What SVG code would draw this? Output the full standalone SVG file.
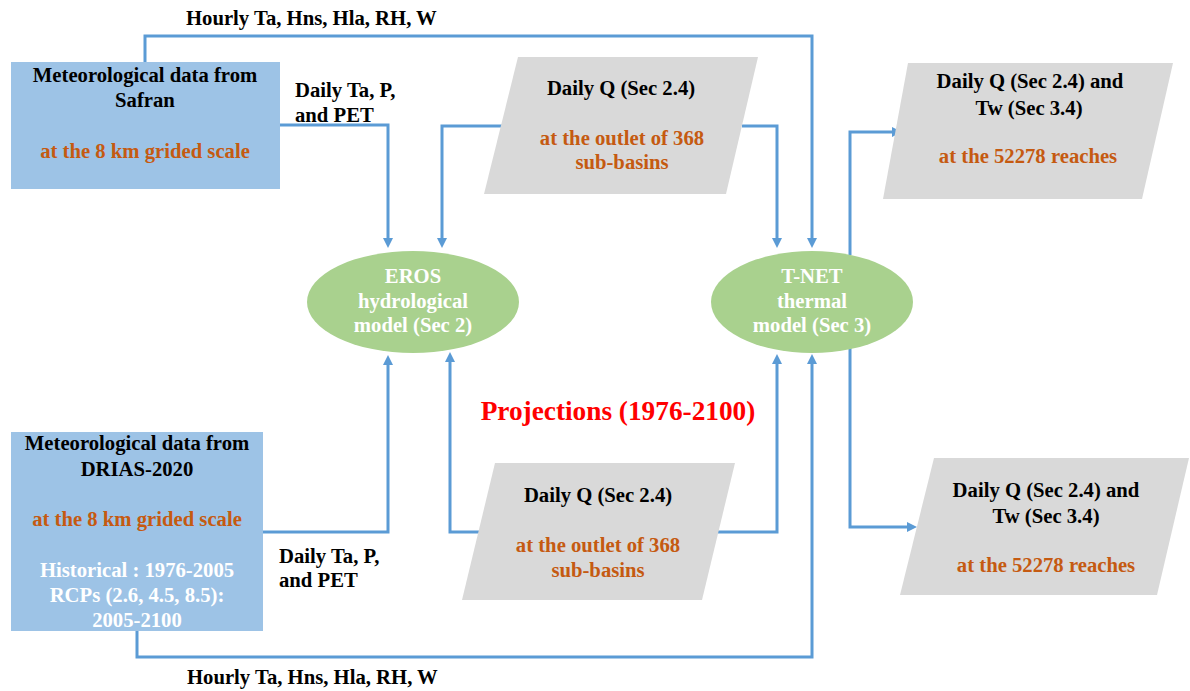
<svg xmlns="http://www.w3.org/2000/svg" width="1190" height="691" viewBox="0 0 1190 691">
<defs>
<marker id="ah" markerUnits="userSpaceOnUse" markerWidth="10" markerHeight="10" viewBox="0 0 10 10" refX="0" refY="5" orient="auto">
<path d="M0,0 L10,5 L0,10 z" fill="#5B9BD5"/>
</marker>
<style>
text{font-family:"Liberation Serif","Times New Roman",serif;font-weight:bold;font-size:20.7px;}
.c{text-anchor:middle;}
.k{fill:#000;}
.o{fill:#C55A11;}
.w{fill:#FFFFFF;}
.box{fill:#9DC3E6;}
.par{fill:#D9D9D9;}
.ell{fill:#A9D18E;}
.ln{fill:none;stroke:#5B9BD5;stroke-width:3;marker-end:url(#ah);}
</style>
</defs>
<rect width="1190" height="691" fill="#FFFFFF"/>

<g id="connectors">
<path class="ln" d="M145,62 V36 H812 V238"/>
<path class="ln" d="M280,125 H388 V238"/>
<path class="ln" d="M503,126 H442 V238"/>
<path class="ln" d="M742,126 H777 V238"/>
<path class="ln" d="M850,255 V132 H892"/>
<path class="ln" d="M263,532 H388 V365"/>
<path class="ln" d="M480,532 H450 V362"/>
<path class="ln" d="M718,532 H777 V364"/>
<path class="ln" d="M137,631 V657 H812 V364"/>
<path class="ln" d="M850,348 V527 H907"/>
</g>

<g id="safran">
<rect class="box" x="11" y="62" width="269" height="127"/>
<text class="c k" x="145" y="82">Meteorological data from</text>
<text class="c k" x="145" y="107">Safran</text>
<text class="c o" x="145" y="158">at the 8 km grided scale</text>
</g>

<g id="drias">
<rect class="box" x="11" y="432" width="252" height="199"/>
<text class="c k" x="137" y="450">Meteorological data from</text>
<text class="c k" x="137" y="476">DRIAS-2020</text>
<text class="c o" x="137" y="526">at the 8 km grided scale</text>
<text class="c w" x="137" y="577">Historical : 1976-2005</text>
<text class="c w" x="137" y="602">RCPs (2.6, 4.5, 8.5):</text>
<text class="c w" x="137" y="627">2005-2100</text>
</g>

<g id="q-top">
<polygon class="par" points="518,57 758,57 726,194 484,194"/>
<text class="c k" x="621" y="95">Daily Q (Sec 2.4)</text>
<text class="c o" x="622" y="145">at the outlet of 368</text>
<text class="c o" x="622" y="169">sub-basins</text>
</g>

<g id="q-bottom">
<polygon class="par" points="495,463 735,463 702,600 462,600"/>
<text class="c k" x="598" y="502">Daily Q (Sec 2.4)</text>
<text class="c o" x="598" y="552">at the outlet of 368</text>
<text class="c o" x="598" y="577">sub-basins</text>
</g>

<g id="out-top">
<polygon class="par" points="908,63 1173,63 1142,199 883,199"/>
<text class="c k" x="1030" y="88">Daily Q (Sec 2.4) and</text>
<text class="c k" x="1029" y="115">Tw  (Sec 3.4)</text>
<text class="c o" x="1028" y="163">at the 52278 reaches</text>
</g>

<g id="out-bottom">
<polygon class="par" points="934,458 1189,458 1157,595 900,595"/>
<text class="c k" x="1046" y="497">Daily Q (Sec 2.4) and</text>
<text class="c k" x="1046" y="523">Tw (Sec 3.4)</text>
<text class="c o" x="1046" y="572">at the 52278 reaches</text>
</g>

<g id="eros">
<ellipse class="ell" cx="413" cy="302" rx="106" ry="51"/>
<text class="c w" x="413" y="283">EROS</text>
<text class="c w" x="413" y="308">hydrological</text>
<text class="c w" x="413" y="332">model (Sec 2)</text>
</g>

<g id="tnet">
<ellipse class="ell" cx="812" cy="302" rx="101" ry="51"/>
<text class="c w" x="812" y="283">T-NET</text>
<text class="c w" x="812" y="308">thermal</text>
<text class="c w" x="812" y="332">model (Sec 3)</text>
</g>

<g id="labels">
<text class="k" x="186" y="25">Hourly Ta, Hns, Hla, RH, W</text>
<text class="k" x="295" y="97">Daily Ta, P,</text>
<text class="k" x="295" y="122">and PET</text>
<text class="k" x="279" y="563">Daily Ta, P,</text>
<text class="k" x="279" y="587">and PET</text>
<text class="k" x="187" y="684">Hourly Ta, Hns, Hla, RH, W</text>
<text class="c" x="618" y="420" style="font-size:27.3px;fill:#FF0000">Projections (1976-2100)</text>
</g>
</svg>
